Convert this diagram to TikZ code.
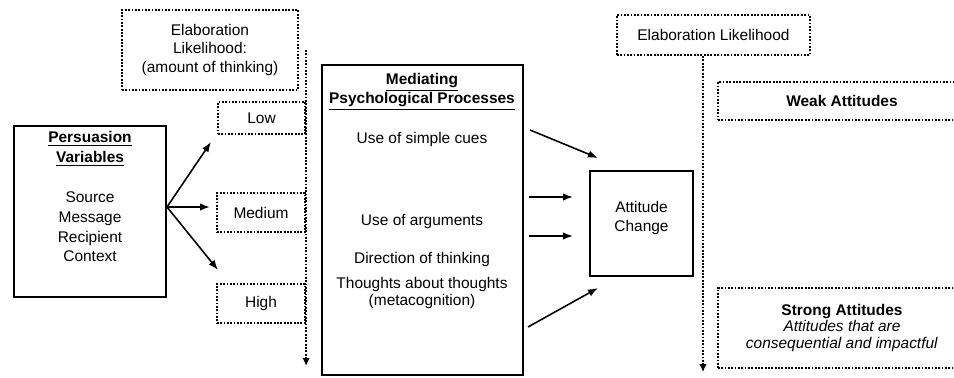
\documentclass[tikz,border=0pt]{standalone}
\usepackage{fontspec}
\setmainfont{Liberation Sans}
\usetikzlibrary{arrows.meta,positioning}

\begin{document}
\begin{tikzpicture}[x=0.02cm, y=-0.02cm,
    font=\fontsize{8.8}{11.3}\selectfont,
    dotbox/.style={draw, line width=1.3pt, dash pattern=on 1pt off 0.9pt, inner sep=0pt, align=center},
    solidbox/.style={draw, line width=0.8pt, inner sep=0pt},
    dotline/.style={line width=1.3pt, dash pattern=on 1pt off 0.9pt, -{Latex[length=1.6mm,width=1.5mm]}},
    arr/.style={line width=0.9pt, -{Latex[length=2mm,width=1.5mm]}},
    txt/.style={align=center, inner sep=0pt}]
            \useasboundingbox (0,0) rectangle (954,378);
            \clip (0,0) rectangle (954,378);

            % Persuasion variables
            \node[solidbox, minimum width=3.04cm, minimum height=3.42cm] (persu) at (90,211.5) {};
            \node[txt, below=0.12cm of persu.north] (persutxt)
                {\underline{\textbf{Persuasion}}\\\underline{\textbf{Variables}}\\[11.3pt]Source\\Message\\Recipient\\Context};

            % Elaboration likelihood (left) and its levels
            \node[dotbox, minimum width=3.52cm, minimum height=1.6cm, font=\fontsize{8.8}{10.5}\selectfont] (elab) at (210,50)
                {Elaboration\\Likelihood:\\(amount of thinking)};
            \node[dotbox, minimum width=1.74cm, minimum height=0.64cm] (low) at (261.5,118) {Low};
            \node[dotbox, minimum width=1.76cm, minimum height=0.78cm] (medium) at (261,212.5) {Medium};
            \node[dotbox, minimum width=1.76cm, minimum height=0.78cm] (high) at (261,303.5) {High};
            \draw[dotline] ([xshift=0.14cm]elab.east) -- ++(0,316);

            % Arrows to the levels
            \coordinate (split) at (167,207);
            \coordinate (lowtip) at (211,142);
            \coordinate (medtip) at (210,207);
            \coordinate (hightip) at (218,270);
            \draw[arr] (split) -- (lowtip);
            \draw[arr] (split) -- (medtip);
            \draw[arr] (split) -- (hightip);

            % Mediating processes
            \node[solidbox, minimum width=4.02cm, minimum height=6.2cm] (medi) at (422.5,220) {};
            \node[txt] (meditit) at (422,92)
                {\underline{\textbf{Mediating}}\\[-0.3pt]\underline{\textbf{Psychological Processes}}};
            \node[txt] (cues) at (422,140) {Use of simple cues};
            \node[txt] (args) at (422,222) {Use of arguments};
            \node[txt] (dirn) at (422,260) {Direction of thinking};
            \node[txt] (meta) at (422,293) {Thoughts about thoughts\\[-1.6pt](metacognition)};

            % Attitude change
            \node[solidbox, minimum width=2.06cm, minimum height=2.1cm] (att) at (641.5,223.5) {};
            \node[txt] (atttxt) at (641.5,218) {Attitude\\[-1pt]Change};

            \coordinate (a1) at (530,130);
            \coordinate (b1) at (598,158);
            \coordinate (a2) at (529,197);
            \coordinate (b2) at (573,197);
            \coordinate (a3) at (529,236);
            \coordinate (b3) at (573,236);
            \coordinate (a4) at (528,327);
            \coordinate (b4) at (598,288);
            \draw[arr] (a1) -- (b1);
            \draw[arr] (a2) -- (b2);
            \draw[arr] (a3) -- (b3);
            \draw[arr] (a4) -- (b4);

            % Elaboration likelihood (right) and attitude strength
            \node[dotbox, minimum width=3.86cm, minimum height=0.8cm] (elabr) at (713.5,35) {Elaboration Likelihood};
            \draw[dotline] ([xshift=-0.21cm]elabr.south) -- ++(0,316);
            \node[dotbox, minimum width=4.96cm, minimum height=0.76cm] (weak) at (842,101) {\textbf{Weak Attitudes}};
            \node[dotbox, minimum width=4.96cm, minimum height=1.6cm, font=\fontsize{8.8}{9.5}\selectfont] (strong) at (842,328)
                {\textbf{Strong Attitudes}\\\textit{Attitudes that are}\\\textit{consequential and impactful}};
        \end{tikzpicture}
\end{document}
